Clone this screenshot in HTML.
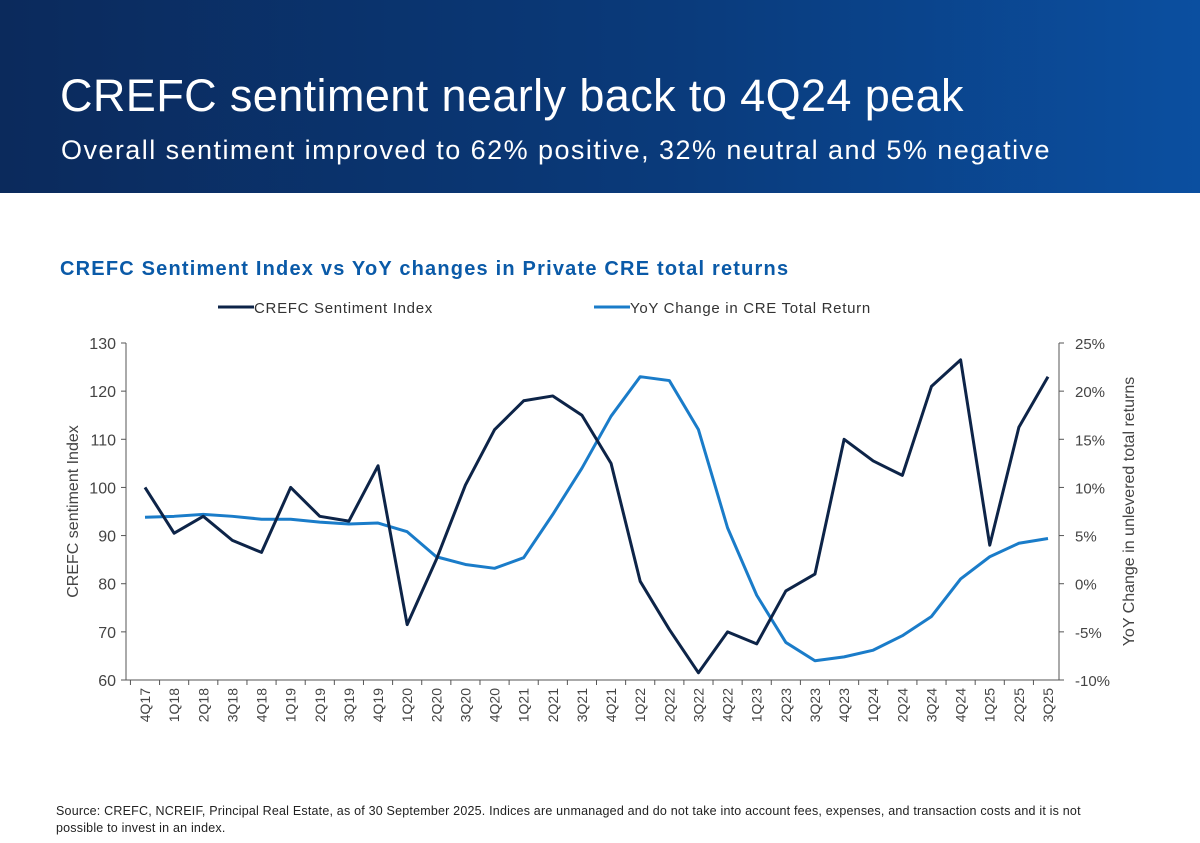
<!DOCTYPE html>
<html><head><meta charset="utf-8"><style>
body{margin:0;width:1200px;height:843px;background:#fff;font-family:"Liberation Sans",sans-serif;overflow:hidden;position:relative}
#hdr{position:absolute;left:0;top:0;width:1200px;height:193px;background:linear-gradient(90deg,#0b2a5c 0%,#0a3a7a 55%,#0b4fa0 100%)}
#t1{position:absolute;left:60px;top:70px;color:#fff;font-size:45px;letter-spacing:0.4px}
#t2{position:absolute;left:61px;top:135px;color:#fff;font-size:27px;letter-spacing:1.45px}
#ct{position:absolute;left:60px;top:258px;color:#0a5aa8;font-size:20px;font-weight:bold;letter-spacing:1.2px}
#src{position:absolute;left:56px;top:803px;font-size:12.5px;color:#222;line-height:17px;width:1060px;letter-spacing:0.2px}
</style></head><body>
<div id="hdr">
<div id="t1">CREFC sentiment nearly back to 4Q24 peak</div>
<div id="t2">Overall sentiment improved to 62% positive, 32% neutral and 5% negative</div>
</div>
<div id="ct">CREFC Sentiment Index vs YoY changes in Private CRE total returns</div>
<svg id="chart" width="1200" height="843" style="position:absolute;left:0;top:0"></svg>
<div id="src">Source: CREFC, NCREIF, Principal Real Estate, as of 30 September 2025. Indices are unmanaged and do not take into account fees, expenses, and transaction costs and it is not possible to invest in an index.</div>
<script>
const categories=["4Q17","1Q18","2Q18","3Q18","4Q18","1Q19","2Q19","3Q19","4Q19","1Q20","2Q20","3Q20","4Q20","1Q21","2Q21","3Q21","4Q21","1Q22","2Q22","3Q22","4Q22","1Q23","2Q23","3Q23","4Q23","1Q24","2Q24","3Q24","4Q24","1Q25","2Q25","3Q25"];
const sentiment=[100,90.5,94,89,86.5,100,94,93,104.5,71.5,85,100.5,112,118,119,115,105,80.5,70.5,61.5,70,67.5,78.5,82,110,105.5,102.5,121,126.5,88,112.5,123];
const yoyReturn=[6.9,7.0,7.2,7.0,6.7,6.7,6.4,6.2,6.3,5.4,2.8,2.0,1.6,2.7,7.2,12.0,17.4,21.5,21.1,16.0,5.8,-1.2,-6.1,-8.0,-7.6,-6.9,-5.4,-3.4,0.5,2.8,4.2,4.7];
const leftTicks=[60,70,80,90,100,110,120,130];
const rightTicks=[-10,-5,0,5,10,15,20,25];
const svg=document.getElementById('chart');const NS='http://www.w3.org/2000/svg';
const X0=126,X1=1059,Y0=343,Y1=680;
const XF=145,XL=1048;
const step=(XL-XF)/(categories.length-1);
const x=i=>XF+step*i;
const yL=v=>Y1-(v-60)/70*(Y1-Y0);
const yR=v=>Y1-(v+10)/35*(Y1-Y0);
function mk(t,a,txt){const e=document.createElementNS(NS,t);for(const k in a)e.setAttribute(k,a[k]);if(txt!==undefined)e.textContent=txt;svg.appendChild(e);return e;}
let e;
e=mk('line',{x1:X0,y1:Y0,x2:X0,y2:Y1,stroke:'#555','stroke-width':1});

e=mk('line',{x1:X1,y1:Y0,x2:X1,y2:Y1,stroke:'#555','stroke-width':1});

e=mk('line',{x1:X0,y1:Y1,x2:X1,y2:Y1,stroke:'#555','stroke-width':1});

leftTicks.forEach(v=>{mk('line',{x1:X0-5,x2:X0,y1:yL(v),y2:yL(v),stroke:'#555'});
e=mk('text',{x:X0-10,y:yL(v)+6,'text-anchor':'end','font-size':16,fill:'#444'},v);
});
rightTicks.forEach(v=>{mk('line',{x1:X1,x2:X1+5,y1:yR(v),y2:yR(v),stroke:'#555'});
e=mk('text',{x:X1+16,y:yR(v)+6,'font-size':15,fill:'#444'},v+'%');
});
categories.forEach((c,i)=>{mk('line',{x1:x(i)-step/2,x2:x(i)-step/2,y1:Y1,y2:Y1+5,stroke:'#555'});
e=mk('text',{x:0,y:0,'text-anchor':'end','font-size':14,fill:'#444',transform:`translate(${x(i)+5},${Y1+8}) rotate(-90)`},c);
});
e=mk('text',{x:0,y:0,'text-anchor':'middle','font-size':16,fill:'#444',transform:`translate(78,${(Y0+Y1)/2}) rotate(-90)`},'CREFC sentiment Index');

e=mk('text',{x:0,y:0,'text-anchor':'middle','font-size':16,fill:'#444',transform:`translate(1134,${(Y0+Y1)/2}) rotate(-90)`},'YoY Change in unlevered total returns');

e=mk('polyline',{points:yoyReturn.map((v,i)=>x(i)+','+yR(v)).join(' '),fill:'none',stroke:'#1a7cc9','stroke-width':3,'stroke-linejoin':'round'});

e=mk('polyline',{points:sentiment.map((v,i)=>x(i)+','+yL(v)).join(' '),fill:'none',stroke:'#0d2448','stroke-width':3,'stroke-linejoin':'round'});

mk('line',{x1:218,x2:254,y1:307,y2:307,stroke:'#0d2448','stroke-width':3});
e=mk('text',{x:254,y:313,'font-size':15,fill:'#333','letter-spacing':0.7},'CREFC Sentiment Index');

mk('line',{x1:594,x2:630,y1:307,y2:307,stroke:'#1a7cc9','stroke-width':3});
e=mk('text',{x:630,y:313,'font-size':15,fill:'#333','letter-spacing':0.7},'YoY Change in CRE Total Return');

</script>
</body></html>
